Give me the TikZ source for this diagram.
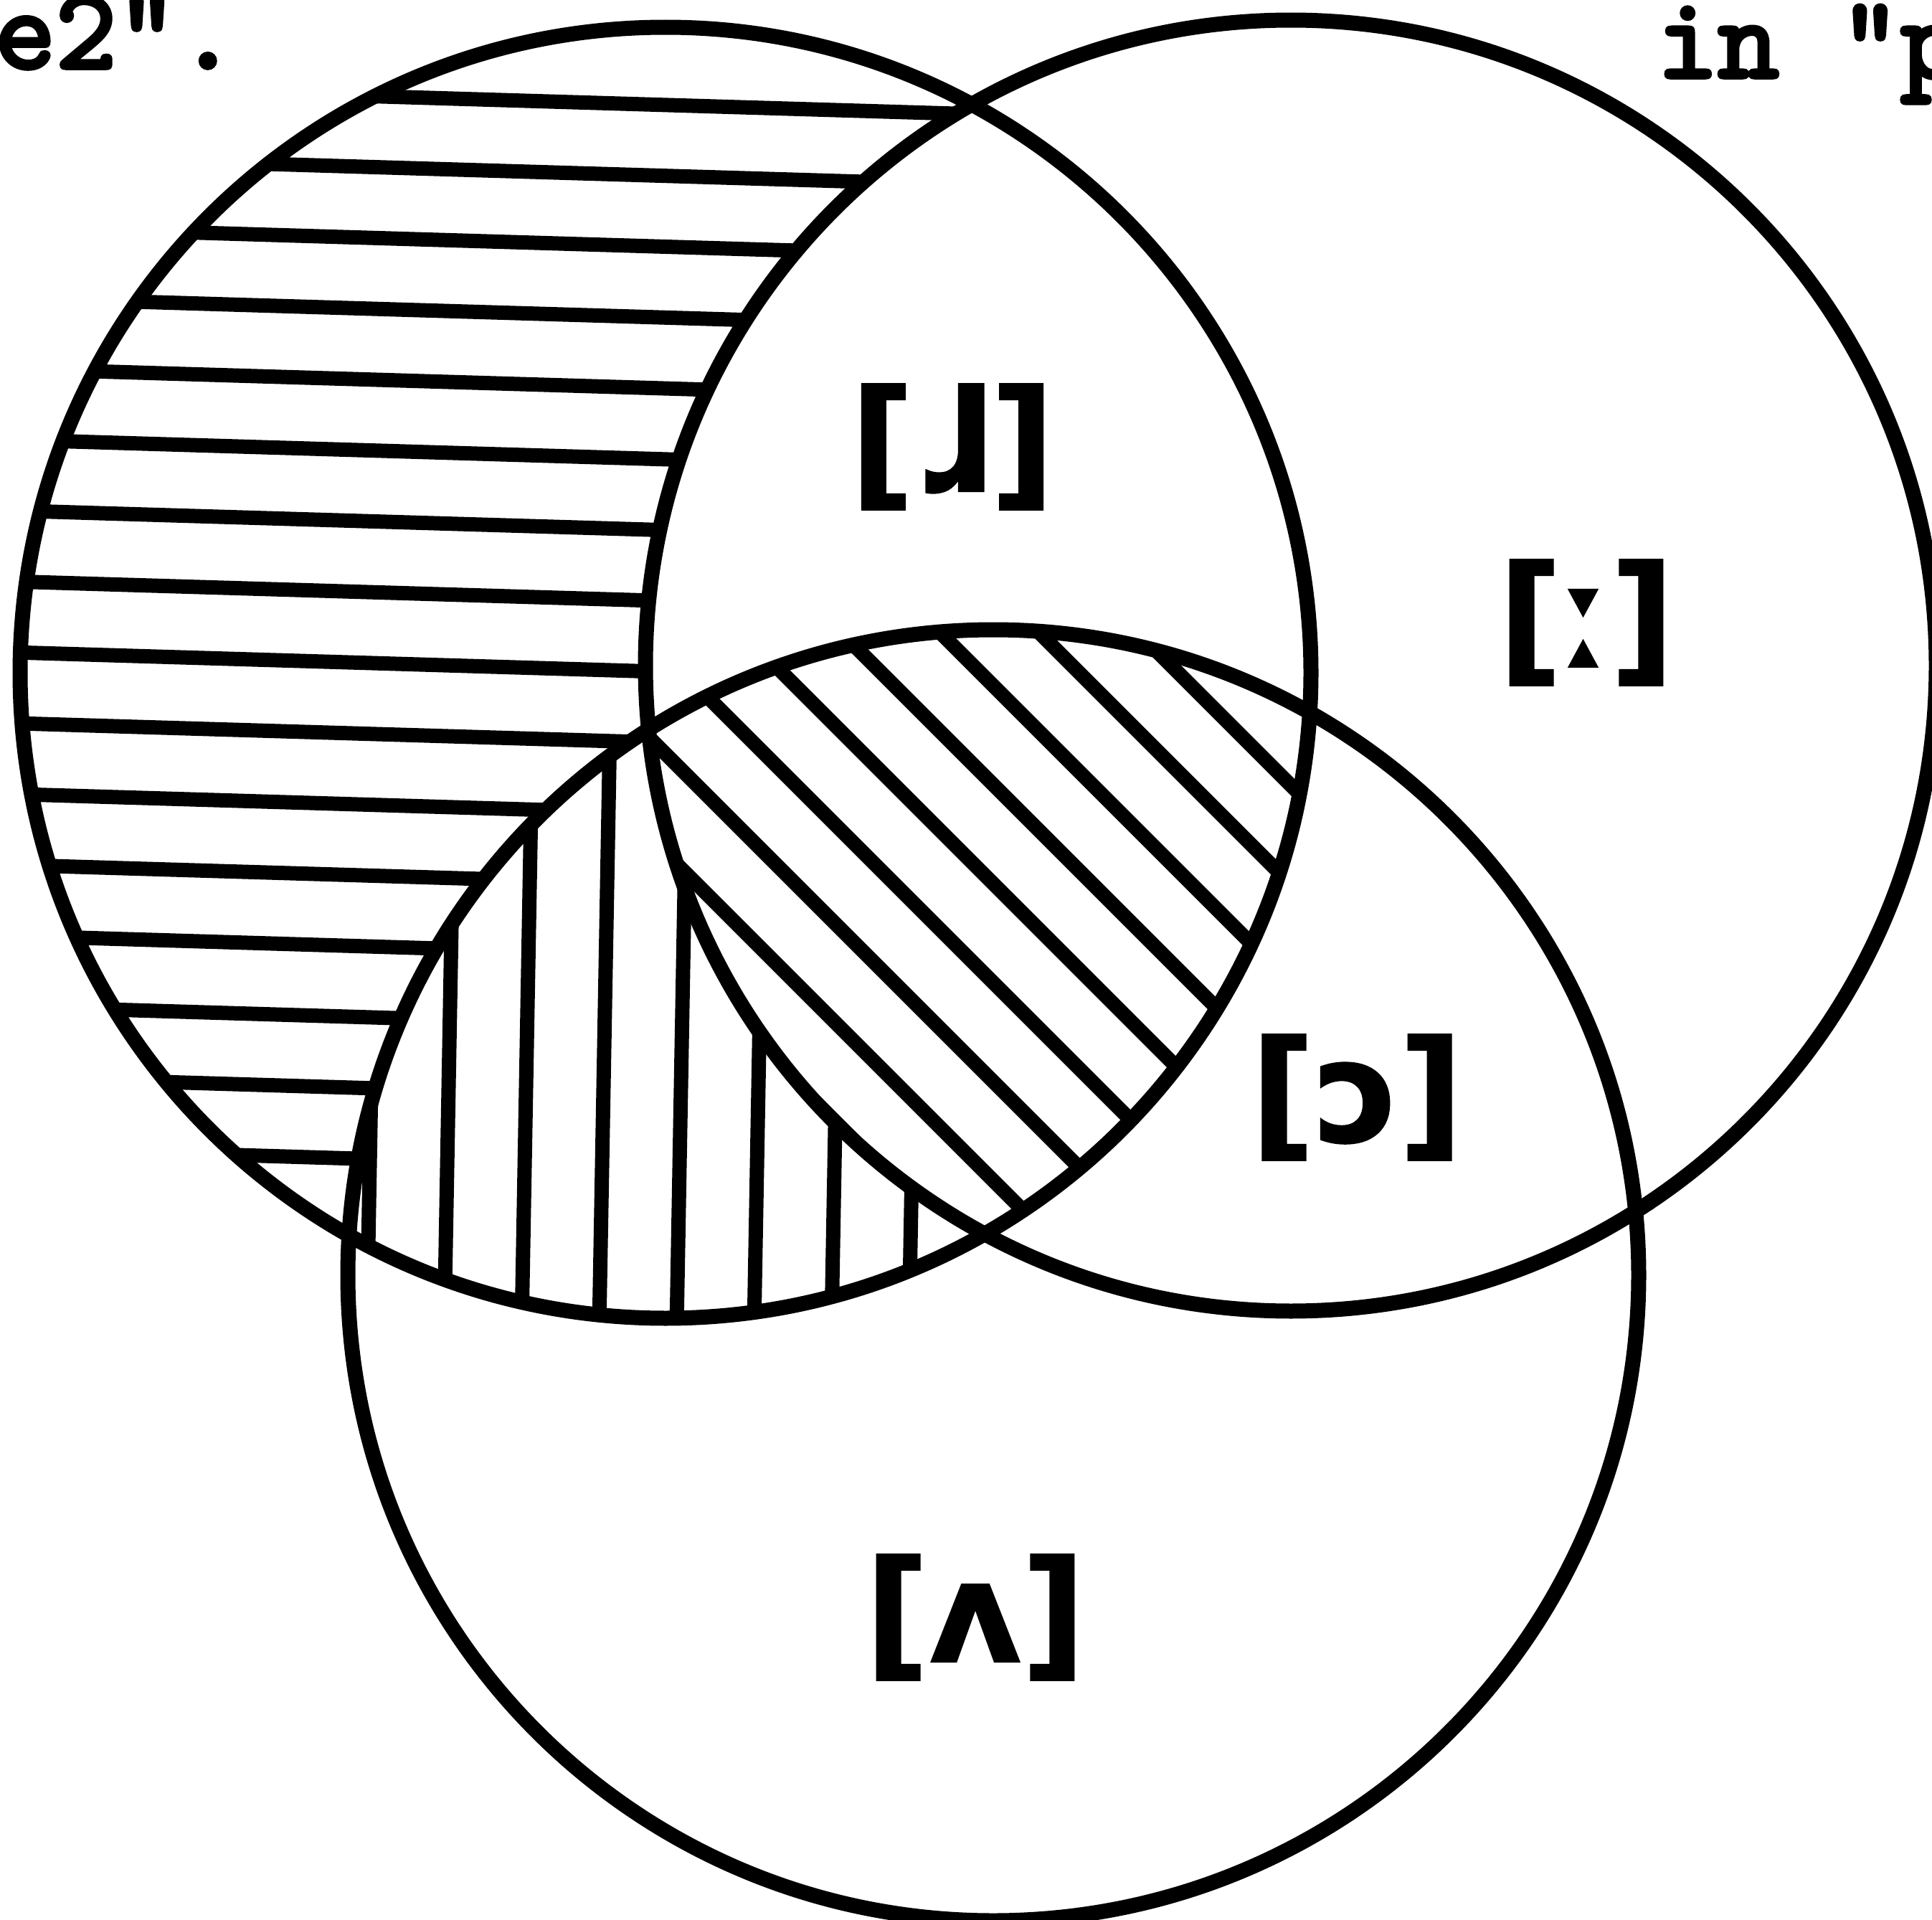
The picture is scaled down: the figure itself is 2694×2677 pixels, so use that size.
\documentclass[tikz,border=0pt]{standalone}
\usepackage{fontspec}
\newfontfamily\ipafont{DejaVu Sans}[BoldFeatures={FakeBold=1.2}]
\newfontfamily\twfont{lmmono10-regular.otf}[FakeBold=3.5]
\begin{document}
\begin{tikzpicture}[x=0.1mm,y=-0.1mm,
  circ/.style={line width=2.1mm},
  hatch/.style={line width=2.0mm},
  lab/.style={font=\ipafont\bfseries\fontsize{56}{56}\selectfont, inner sep=0pt},
  tw/.style={font=\twfont\fontsize{46}{46}\selectfont, inner sep=0pt, anchor=base west}]
\useasboundingbox (0,0) rectangle (2694,2677);
\fill[white] (0,0) rectangle (2694,2677);
\coordinate (cA) at (928,938);
\coordinate (cB) at (1800,928);
\coordinate (cC) at (1385,1778);
\def\R{90mm}
% horizontal hatching: A only
\begin{scope}
  \clip (cA) circle[radius=\R];
  \foreach \k in {0,...,15}{
    \draw[hatch] (0,{134+98.8*\k-15.45}) -- (1900,{134+98.8*\k+41.55});
  }
\end{scope}
\fill[white] (cB) circle[radius=\R];
\fill[white] (cC) circle[radius=\R];
% vertical hatching: A and C, not B
\begin{scope}
  \clip (cA) circle[radius=\R];
  \clip (cC) circle[radius=\R];
  \foreach \k in {0,...,7}{
    \draw[hatch] ({516+108*\k+14.4},800) -- ({516+108*\k-5.4},1900);
  }
\end{scope}
\fill[white] (cB) circle[radius=\R];
% diagonal hatching: A, B and C
\begin{scope}
  \clip (cA) circle[radius=\R];
  \clip (cB) circle[radius=\R];
  \clip (cC) circle[radius=\R];
  \foreach \k in {-3,...,7}{
    \draw[hatch] ({15+138*\k+800},800) -- ({15+138*\k+1800},1800);
  }
\end{scope}
% circles
\draw[circ] (cA) circle[radius=\R];
\draw[circ] (cB) circle[radius=\R];
\draw[circ] (cC) circle[radius=\R];
% labels
\node[lab] (l1) at (1328,623) {[ɺ]};
\node[lab] (l2) at (2212,868) {[ː]};
\node[lab] (l3) at (1892,1530) {[ɔ]};
\node[lab] (l4) at (1360,2255) {[ʌ]};
% typed text
\node[tw] (t1) at (-8,95) {e2".};
\node[tw] (t2) at (2310,108) {in "p};
\end{tikzpicture}
\end{document}
